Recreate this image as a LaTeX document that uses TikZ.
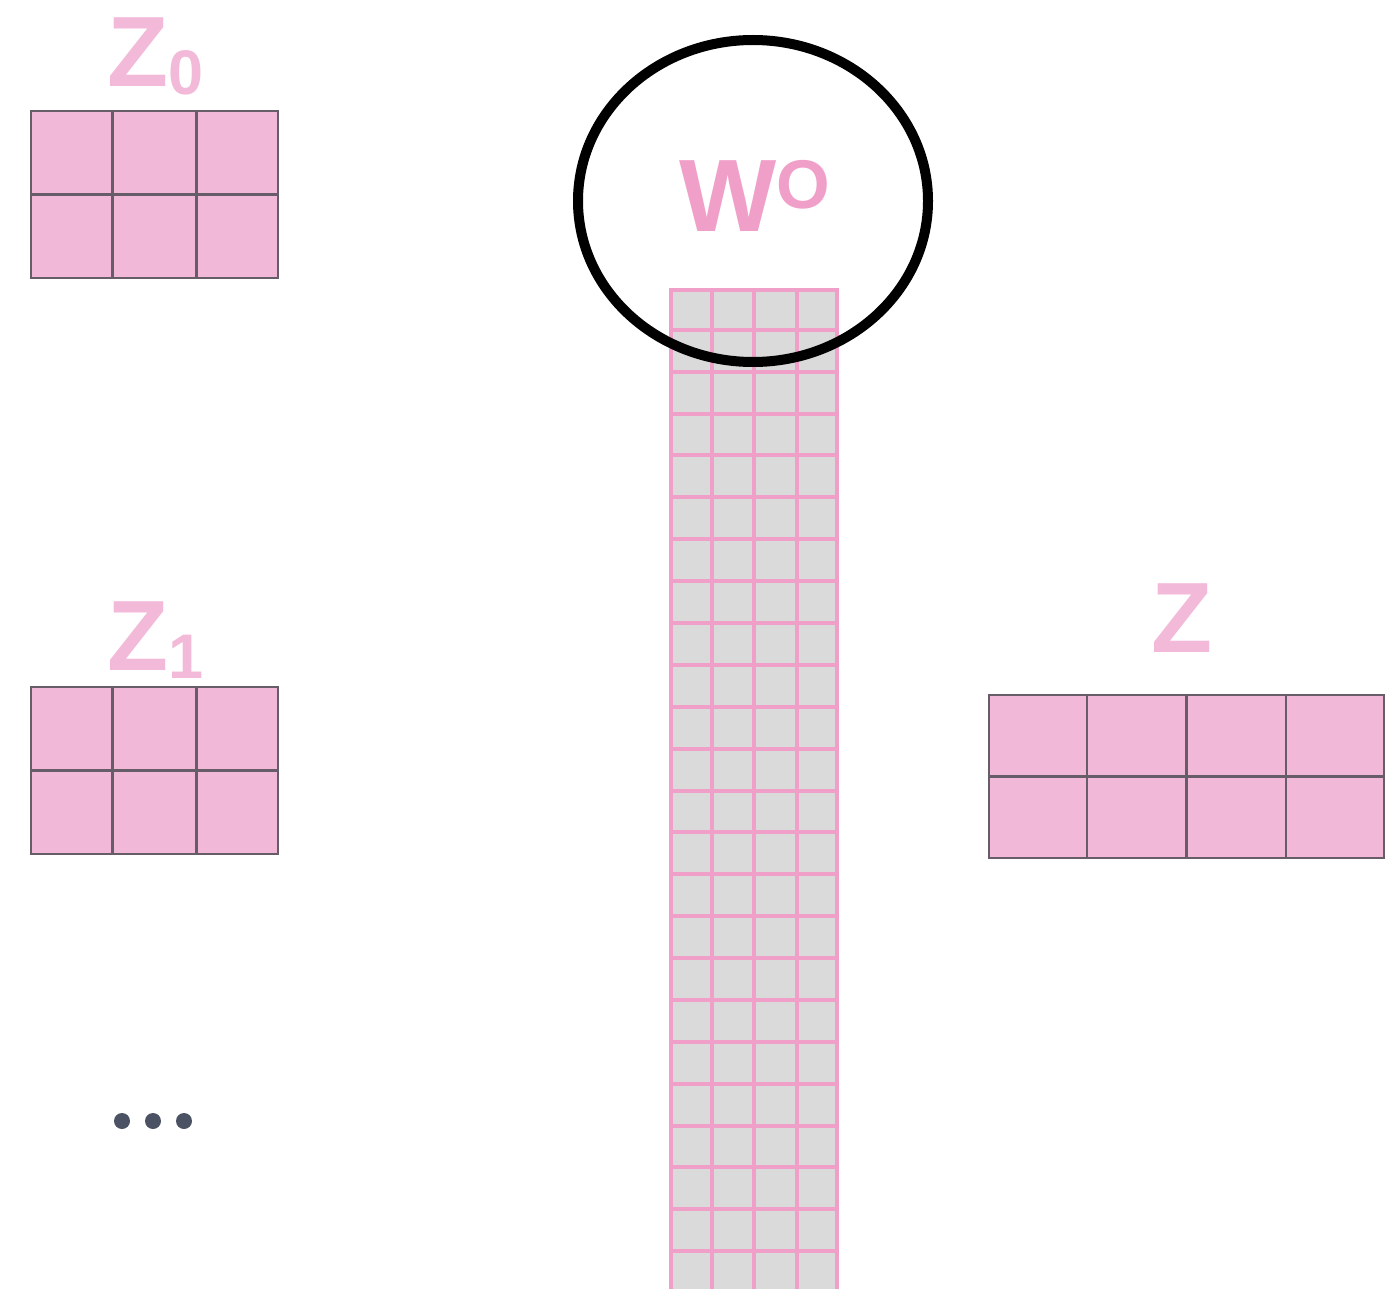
\documentclass[tikz,border=0pt]{standalone}
\usepackage{fontspec}
\setmainfont{Liberation Sans}
\usetikzlibrary{calc, positioning}
\definecolor{zpink}{HTML}{F2B8D7}
\definecolor{zlabel}{HTML}{F2B9D8}
\definecolor{wpink}{HTML}{F0A0C8}
\definecolor{wgray}{HTML}{DADADA}
\definecolor{cellline}{HTML}{665D68}
\definecolor{dotgray}{HTML}{4B5263}
\tikzset{
  zmat/.style     = {rectangle, fill=zpink, draw=cellline, line width=2.8pt,
                     inner sep=0pt},
  zline/.style    = {draw=cellline, line width=2.8pt},
  wmat/.style     = {rectangle, fill=wgray, draw=wpink, line width=4pt,
                     inner sep=0pt},
  wline/.style    = {draw=wpink, line width=4pt},
  zname/.style    = {text=zlabel, font=\bfseries\fontsize{100}{100}\selectfont,
                     inner sep=0pt, anchor=base west},
  wname/.style    = {text=wpink, font=\bfseries\fontsize{103}{103}\selectfont,
                     inner sep=0pt, anchor=base west},
  ring/.style     = {draw=black, line width=10pt},
  ellipdot/.style = {circle, fill=dotgray, minimum size=16pt, inner sep=0pt},
}
\newcommand{\zsub}[1]{\raisebox{-8pt}{\fontsize{63}{63}\selectfont #1}}
\newcommand{\wsup}[1]{\raisebox{23pt}{\fontsize{69}{69}\selectfont #1}}

\begin{document}
\begin{tikzpicture}[x=1pt, y=-1pt]
    \useasboundingbox (0,0) rectangle (1388,1289);
    % head outputs
    \node[zmat, minimum width=247pt, minimum height=167pt] (Z0) at (154.5,194.5) {};
    \node[zmat, minimum width=247pt, minimum height=167pt] (Z1) at (154.5,770.5) {};
    \foreach \m in {Z0, Z1} {
      \foreach \k in {1,2}
        \draw[zline] ($(\m.north west)!\k/3!(\m.north east)$)
          -- ($(\m.south west)!\k/3!(\m.south east)$);
      \draw[zline] (\m.west) -- (\m.east);
    }
    \node[zname] (Z0name) at (107,87) {Z\zsub{0}};
    \node[zname] (Z1name) at (107,670) {Z\zsub{1}};
    \foreach \i/\x in {1/122, 2/153, 3/184}
      \node[ellipdot] (dot\i) at (\x,1121) {};
    % output projection
    \node[wmat, minimum width=166pt, minimum height=1001pt] (WO) at (754,790.5) {};
    \foreach \k in {1,2,3}
      \draw[wline] ($(WO.north west)!\k/4!(WO.north east)$)
        -- ($(WO.south west)!\k/4!(WO.south east)$);
    \foreach \k in {1,...,23}
      \draw[wline] ($(WO.north west)!\k/24!(WO.south west)$)
        -- ($(WO.north east)!\k/24!(WO.south east)$);
    \node[wname] (WOname) at (679.5,232) {W\wsup{O}};
    \draw[ring] (753,201) ellipse [x radius=175pt, y radius=161pt];
    % concatenated result
    \node[zmat, minimum width=395pt, minimum height=163pt] (Z) at (1186.5,776.5) {};
    \foreach \k in {1,2,3}
      \draw[zline] ($(Z.north west)!\k/4!(Z.north east)$)
        -- ($(Z.south west)!\k/4!(Z.south east)$);
    \draw[zline] (Z.west) -- (Z.east);
    \node[zname] (Zname) at (1151,652) {Z};
\end{tikzpicture}
\end{document}
